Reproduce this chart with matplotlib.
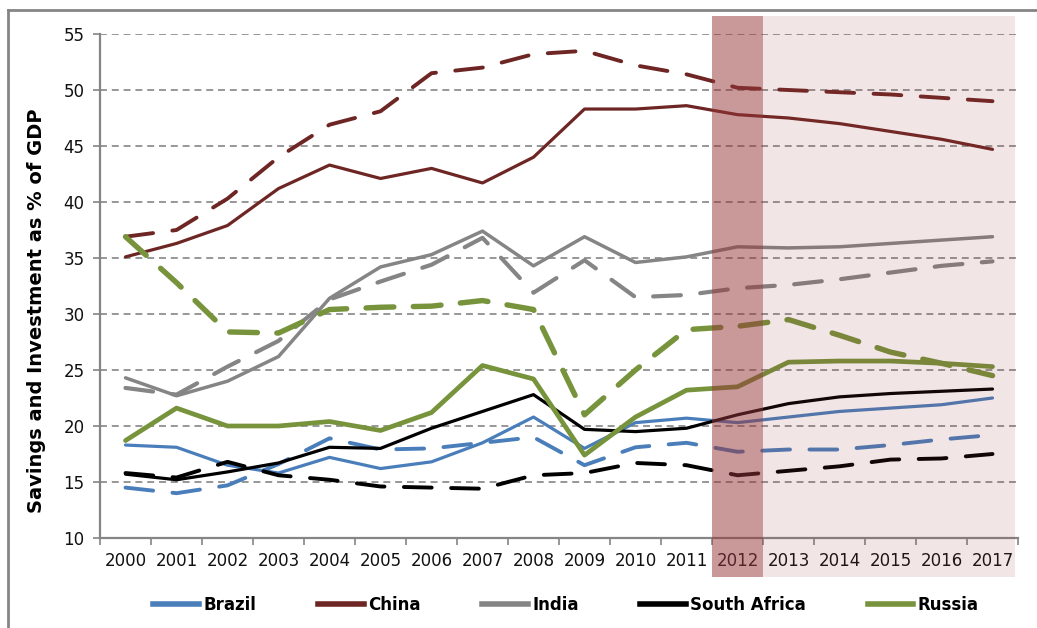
import numpy as np
import matplotlib
matplotlib.use("Agg")
import matplotlib.pyplot as plt
from matplotlib.lines import Line2D

plt.rcParams["font.family"] = ["DejaVu Sans"]
plt.rcParams["lines.scale_dashes"] = False

years = [str(y) for y in range(2000, 2018)]

# solid = investment, dashed = savings (% of GDP)
brazil_inv = [18.3, 18.1, 16.5, 15.8, 17.2, 16.2, 16.8, 18.5, 20.8, 18.0, 20.3, 20.7, 20.3, 20.8, 21.3, 21.6, 21.9, 22.5]
brazil_sav = [14.5, 14.0, 14.7, 16.6, 18.9, 17.9, 18.0, 18.5, 19.0, 16.5, 18.1, 18.5, 17.7, 17.9, 17.9, 18.3, 18.8, 19.2]
china_inv = [35.1, 36.3, 37.9, 41.2, 43.3, 42.1, 43.0, 41.7, 44.0, 48.3, 48.3, 48.6, 47.8, 47.5, 47.0, 46.3, 45.6, 44.7]
china_sav = [36.9, 37.5, 40.3, 44.0, 46.9, 48.1, 51.5, 52.0, 53.2, 53.5, 52.2, 51.4, 50.2, 50.0, 49.8, 49.6, 49.3, 49.0]
india_inv = [24.3, 22.7, 24.0, 26.2, 31.4, 34.2, 35.3, 37.4, 34.3, 36.9, 34.6, 35.1, 36.0, 35.9, 36.0, 36.3, 36.6, 36.9]
india_sav = [23.4, 22.8, 25.3, 27.6, 31.3, 32.9, 34.4, 36.8, 31.9, 34.8, 31.5, 31.7, 32.3, 32.6, 33.1, 33.7, 34.3, 34.7]
safrica_inv = [15.7, 15.2, 15.9, 16.7, 18.1, 18.0, 19.8, 21.3, 22.8, 19.7, 19.5, 19.8, 21.0, 22.0, 22.6, 22.9, 23.1, 23.3]
safrica_sav = [15.8, 15.4, 16.8, 15.6, 15.2, 14.6, 14.5, 14.4, 15.6, 15.8, 16.7, 16.5, 15.6, 16.0, 16.4, 17.0, 17.1, 17.5]
russia_inv = [18.7, 21.6, 20.0, 20.0, 20.4, 19.6, 21.2, 25.4, 24.2, 17.4, 20.8, 23.2, 23.5, 25.7, 25.8, 25.8, 25.6, 25.3]
russia_sav = [36.9, 32.8, 28.4, 28.3, 30.4, 30.6, 30.7, 31.2, 30.4, 21.0, 25.0, 28.6, 28.9, 29.5, 28.1, 26.6, 25.6, 24.5]

countries = ["Brazil", "China", "India", "South Africa", "Russia"]
colors = ["#4a7ebb", "#6e2624", "#858585", "#000000", "#77933c"]
widths = [2.3, 2.3, 2.5, 2.3, 3.4]

inv = [brazil_inv, china_inv, india_inv, safrica_inv, russia_inv]
sav = [brazil_sav, china_sav, india_sav, safrica_sav, russia_sav]

fig = plt.figure(figsize=(10.37, 6.28), dpi=100)
ax = fig.add_axes([100 / 1037, 1 - 538 / 628, 918 / 1037, (538 - 34) / 628])

x = np.arange(len(years))
for name, c, w, a, b in zip(countries, colors, widths, inv, sav):
    ax.plot(x, a, color=c, lw=w, solid_capstyle="round", solid_joinstyle="round", zorder=2, label=name)
    ax.plot(x, b, color=c, lw=w + 0.5, linestyle=(0, (20, 14)), dash_capstyle="round",
            dash_joinstyle="round", zorder=2)

ax.set_xlim(-0.5, len(years) - 0.5)
ax.set_ylim(10, 55)
ax.set_yticks(range(10, 56, 5))
ax.set_xticks(x)
ax.set_xticklabels(years)
ax.set_xticks(np.arange(-0.5, len(years), 1), minor=True)
ax.tick_params(axis="x", which="major", length=0, pad=10, labelsize=12, labelcolor="#111111")
ax.tick_params(axis="x", which="minor", length=5, width=1.2, color="#858585", direction="out")
ax.tick_params(axis="y", length=5, width=1.2, color="#858585", pad=6, labelsize=12, labelcolor="#111111")

for s in ["top", "right"]:
    ax.spines[s].set_visible(False)
for s in ["left", "bottom"]:
    ax.spines[s].set_color("#858585")
    ax.spines[s].set_linewidth(1.6)

ax.grid(axis="y", color="#858585", lw=1.2, linestyle=(0, (5, 3.5)), zorder=1)
ax.set_axisbelow(True)

ax.set_ylabel("Savings and Investment as % of GDP", fontsize=14, fontweight="bold")
ax.yaxis.set_label_coords(-0.059, 0.45)

# forecast shading (overlays lines and labels)
ax.axvspan(11.5, 12.5, ymin=-0.078, ymax=1.035, color="#96373a", alpha=0.51, lw=0, zorder=3, clip_on=False)
ax.axvspan(12.5, 17.45, ymin=-0.078, ymax=1.035, color="#96373a", alpha=0.125, lw=0, zorder=3, clip_on=False)

handles = [Line2D([0], [0], color=c, lw=4) for c in colors]
leg = fig.legend(handles, countries, loc="center", bbox_to_anchor=(566 / 1037, 1 - 605 / 628), ncol=5,
                 frameon=False, handlelength=2.75, columnspacing=3.7, handletextpad=0.25,
                 prop={"weight": "bold", "size": 12})

# outer frame
fig.add_artist(Line2D([8 / 1037, 1.0], [1 - 10 / 628] * 2, color="#858585", lw=2))
fig.add_artist(Line2D([8 / 1037] * 2, [0.0, 1 - 10 / 628], color="#858585", lw=2))

fig.savefig("out.png", dpi=100)
